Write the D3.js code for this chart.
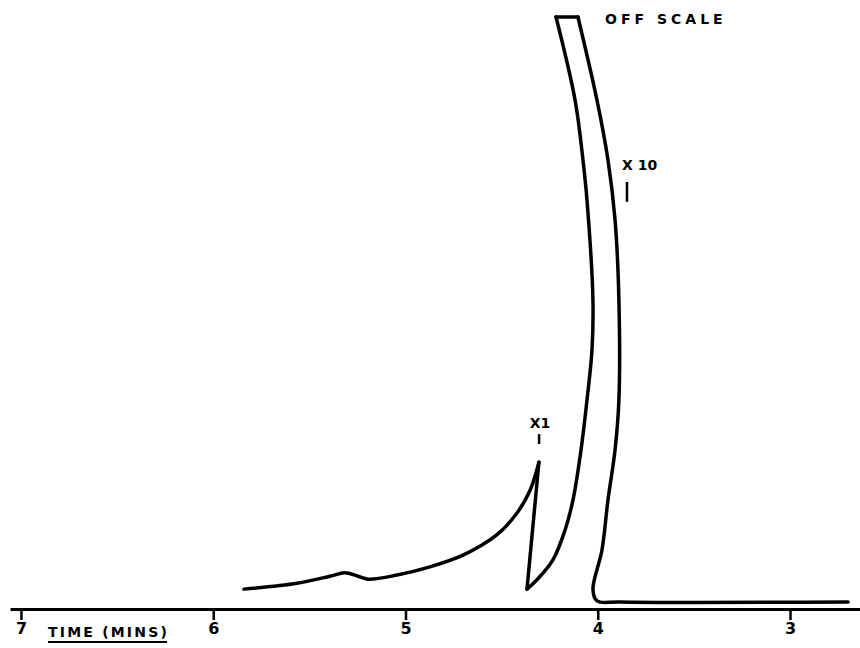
<!DOCTYPE html>
<html>
<head>
<meta charset="utf-8">
<script src="https://cdn.jsdelivr.net/npm/d3@7"></script>
<style>
  body { margin: 0; background: #fff; }
  svg { display: block; }
  .lbl { font-family: "DejaVu Sans", sans-serif; font-weight: bold; fill: #000; }
</style>
</head>
<body>
<div id="viz"></div>
<script>
// recorder trace (time in minutes, signal in % of full scale)
const traceTime = [5.840, 5.564, 5.393, 5.315, 5.247, 5.195, 5.044, 4.873, 4.701, 4.524,
  4.420, 4.352, 4.306, 4.368, 4.316, 4.233, 4.170, 4.129, 4.087, 4.056, 4.030, 4.025,
  4.056, 4.077, 4.118, 4.217, 4.103, 4.004, 3.947, 3.910, 3.890, 3.890, 3.910, 3.947,
  3.978, 4.025, 4.004, 3.884, 2.698];
const traceSignal = [2.2, 3.2, 4.4, 5.0, 4.4, 3.9, 4.6, 6.0, 8.0, 11.5,
  15.2, 19.1, 23.9, 2.2, 3.8, 7.2, 12.3, 17.4, 26.0, 34.5, 43.1, 51.6,
  68.7, 75.6, 85.8, 100, 100, 85.8, 75.6, 65.3, 51.6, 34.5, 26.0, 17.4,
  8.9, 2.1, 0.2, 0, 0];
// sharp pen turns: attenuator switch, its bottom, the two off-scale corners
const corners = [12, 13, 25, 26];
const timeTicks = [7, 6, 5, 4, 3];
const axisTitle = "TIME (MINS)";
const offScaleLabel = "OFF SCALE";
const attenuations = ["X 10", "X1"];

const W = 860, H = 648;

const svg = d3.select("#viz").append("svg")
  .attr("width", W)
  .attr("height", H);

svg.append("rect").attr("width", W).attr("height", H).attr("fill", "#fff");

// time runs right to left on the recorder paper
const x = d3.scaleLinear().domain([7.057, 2.636]).range([10, 860]);
const y = d3.scaleLinear().domain([0, 100]).range([602, 17]);

const axisY = 609;
const axis = d3.axisBottom(x)
  .tickValues(timeTicks)
  .tickFormat(d3.format("d"))
  .tickSize(11)
  .tickSizeOuter(0)
  .tickPadding(3);

const gAxis = svg.append("g")
  .attr("transform", `translate(0,${axisY})`)
  .call(axis);
gAxis.select(".domain").attr("stroke", "#000").attr("stroke-width", 3);
gAxis.selectAll(".tick line").attr("stroke", "#000").attr("stroke-width", 2.5);
gAxis.selectAll(".tick text")
  .attr("class", "lbl")
  .style("font-size", "16px")
  .style("font-family", "DejaVu Sans, sans-serif")
  .style("font-weight", "bold");

// axis title, underlined by hand
const title = svg.append("text")
  .attr("class", "lbl")
  .attr("x", 48)
  .attr("y", 637)
  .style("font-size", "14px")
  .style("letter-spacing", "2.2px")
  .text(axisTitle);
const tb = title.node().getBBox();
svg.append("line")
  .attr("x1", tb.x).attr("x2", tb.x + tb.width - 2)
  .attr("y1", 642).attr("y2", 642)
  .attr("stroke", "#000").attr("stroke-width", 2);

// the trace, drawn piece by piece so the pen turns stay sharp
const pts = traceTime.map((t, i) => [t, traceSignal[i]]);
const cuts = [0, ...corners, pts.length - 1];
const pieces = d3.pairs(cuts).map(([a, b]) => pts.slice(a, b + 1));

const line = d3.line()
  .x(d => x(d[0]))
  .y(d => y(d[1]))
  .curve(d3.curveCatmullRom.alpha(0.5));

svg.append("g").selectAll("path")
  .data(pieces)
  .join("path")
  .attr("d", line)
  .attr("fill", "none")
  .attr("stroke", "#000")
  .attr("stroke-width", 3.5)
  .attr("stroke-linejoin", "round")
  .attr("stroke-linecap", "round");

// notes written on the chart
svg.append("text")
  .attr("class", "lbl")
  .attr("x", x(3.962))
  .attr("y", y(98.8))
  .style("font-size", "14px")
  .style("letter-spacing", "4px")
  .text(offScaleLabel);

svg.append("text")
  .attr("class", "lbl")
  .attr("x", x(3.874))
  .attr("y", y(73.8))
  .style("font-size", "14px")
  .text(attenuations[0]);
svg.append("line")
  .attr("x1", x(3.848)).attr("x2", x(3.848))
  .attr("y1", y(71.8)).attr("y2", y(68.4))
  .attr("stroke", "#000").attr("stroke-width", 2.5);

svg.append("text")
  .attr("class", "lbl")
  .attr("x", x(4.300))
  .attr("y", y(29.7))
  .attr("text-anchor", "middle")
  .style("font-size", "14px")
  .text(attenuations[1]);
svg.append("line")
  .attr("x1", x(4.305)).attr("x2", x(4.305))
  .attr("y1", y(28.7)).attr("y2", y(27.0))
  .attr("stroke", "#000").attr("stroke-width", 2.5);
</script>
</body>
</html>
